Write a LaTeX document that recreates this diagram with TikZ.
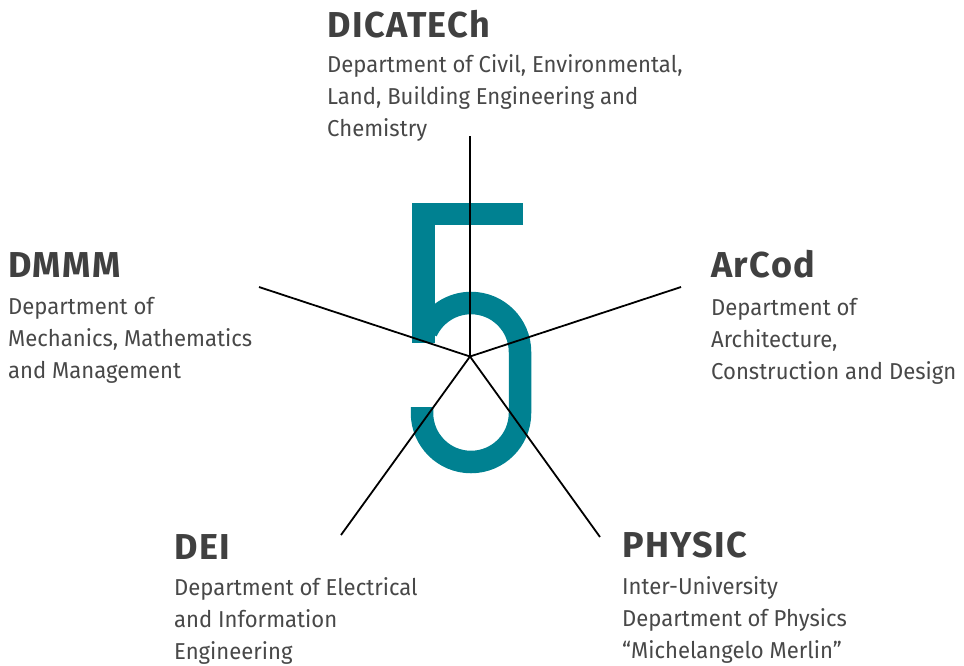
\documentclass[tikz,border=0pt]{standalone}
\usepackage{fontspec}
\setmainfont[FakeStretch=0.96]{Fira Sans}
\newfontfamily\titlefont[LetterSpace=4]{Fira Sans}
\definecolor{teal5}{RGB}{0,129,145}
\definecolor{titlegray}{RGB}{64,64,64}
\definecolor{bodygray}{RGB}{72,72,72}
\begin{document}
\begin{tikzpicture}[x=1pt,y=-1pt,
  ttl/.style={anchor=base west,inner sep=0pt,text=titlegray,font=\titlefont\fontsize{36}{40}\selectfont\bfseries},
  bdy/.style={anchor=base west,inner sep=0pt,text=bodygray,font=\fontsize{23}{32}\selectfont},
  spoke/.style={line width=1.8pt,black},
  five/.style={line width=22.5pt,teal5,line cap=butt,line join=miter}]
\useasboundingbox (0,0) rectangle (964,665);
% the big 5
\draw[five] (523,214) -- (423.5,214) -- (423.5,343);
\draw[five] (422,407) -- (422,413) arc[start angle=180,end angle=360,radius=49pt] -- (520,352) arc[start angle=0,end angle=155,radius=49pt];
% spokes
\coordinate (c) at (470,356.5);
\coordinate (pt) at (470,136);
\coordinate (pl) at (259,287);
\coordinate (pr) at (681,287);
\coordinate (pll) at (341,535);
\coordinate (plr) at (600,537);
\draw[spoke] (c) -- (pt);
\draw[spoke] (c) -- (pl);
\draw[spoke] (c) -- (pr);
\draw[spoke] (c) -- (pll);
\draw[spoke] (c) -- (plr);
% texts
\node[ttl] (t1) at (327,37) {DICATECh};
\node[bdy] (b1) at (327,72) {\begin{tabular}[t]{@{}l@{}}Department of Civil, Environmental,\\Land, Building Engineering and\\Chemistry\end{tabular}};
\node[ttl] (t2) at (8,277) {DMMM};
\node[bdy] (b2) at (8,314) {\begin{tabular}[t]{@{}l@{}}Department of\\Mechanics, Mathematics\\and Management\end{tabular}};
\node[ttl] (t3) at (711,277) {ArCod};
\node[bdy] (b3) at (711,315) {\begin{tabular}[t]{@{}l@{}}Department of\\Architecture,\\Construction and Design\end{tabular}};
\node[ttl] (t4) at (174,559) {DEI};
\node[bdy] (b4) at (174,595) {\begin{tabular}[t]{@{}l@{}}Department of Electrical\\and Information\\Engineering\end{tabular}};
\node[ttl] (t5) at (622,557) {PHYSIC};
\node[bdy] (b5) at (622,594) {\begin{tabular}[t]{@{}l@{}}Inter-University\\Department of Physics\\“Michelangelo Merlin”\end{tabular}};
\end{tikzpicture}
\end{document}
